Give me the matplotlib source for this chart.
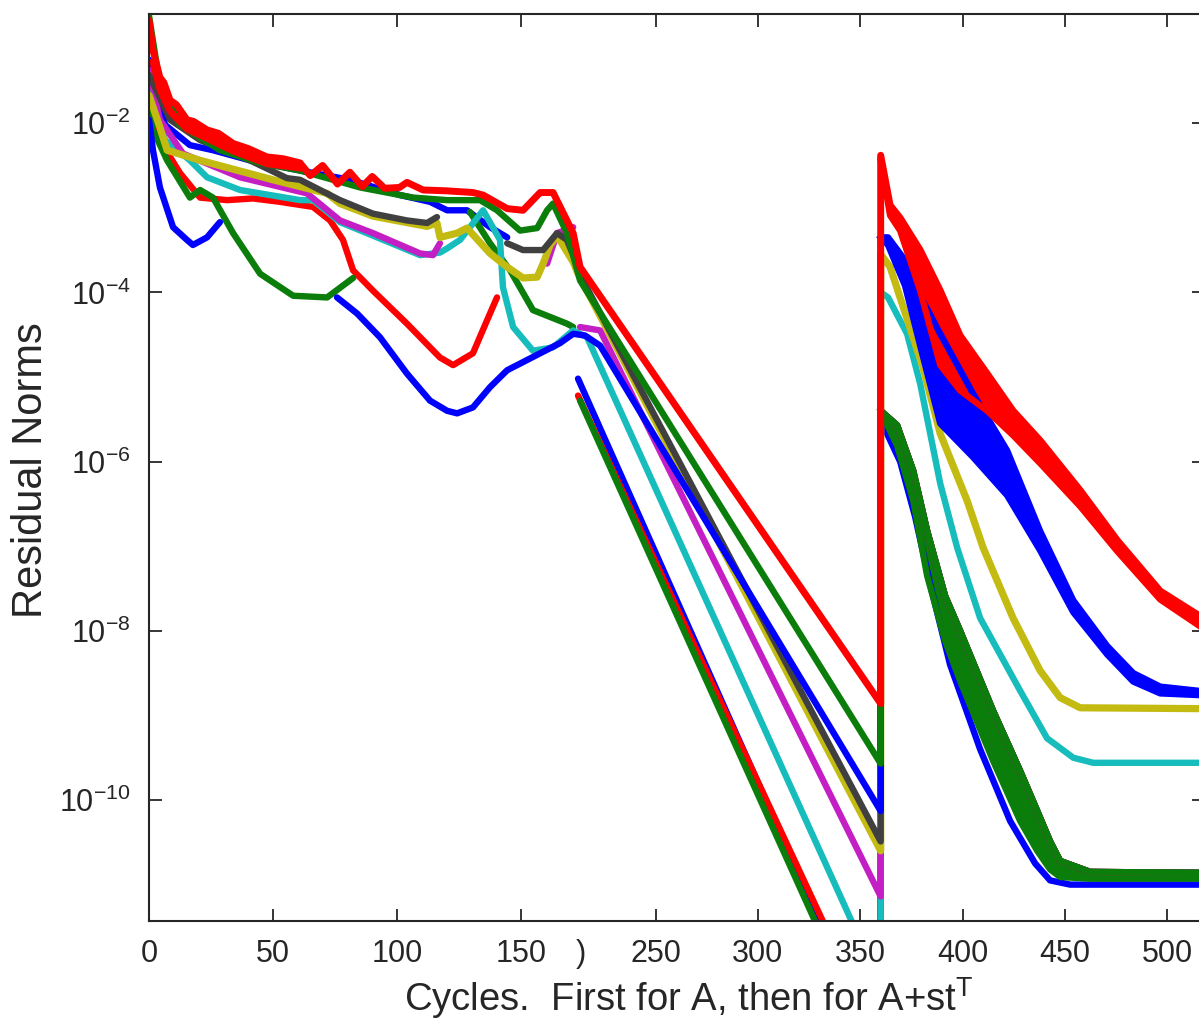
import matplotlib
matplotlib.use('Agg')
import matplotlib.pyplot as plt
import numpy as np

plt.rcParams['font.family'] = 'Liberation Sans'
plt.rcParams['mathtext.fontset'] = 'custom'
plt.rcParams['mathtext.rm'] = 'Liberation Sans'
plt.rcParams['mathtext.it'] = 'Liberation Sans:italic'
plt.rcParams['mathtext.bf'] = 'Liberation Sans:bold'

NAN = np.nan

# ---- data: cycles and log10(residual norm) ----
# phase 1: first problem (cycles 0..171), phase 2: 212..360, phase 3: A+st^T (360..)
red_p1_x = [0, 1.6, 3, 4.4, 6, 8.5, 11, 15.3, 18, 23.4, 28, 33.9, 40, 47.6, 54, 60.9, 65, 70, 76, 81,
            86, 90, 95, 101, 104, 110.5, 120, 130.6, 134.7, 144.4, 150.8, 157.7, 162.9, 168.5, 171.0]
red_p1_log = [-0.78, -1.14, -1.30, -1.46, -1.52, -1.73, -1.78, -1.96, -1.98, -2.08, -2.12, -2.24, -2.30,
              -2.40, -2.42, -2.47, -2.62, -2.50, -2.72, -2.58, -2.75, -2.63, -2.77, -2.76, -2.70, -2.79,
              -2.80, -2.82, -2.85, -3.01, -3.03, -2.82, -2.82, -3.15, -3.30]
# noisy (thick) start of the top red curve
red_noise_x = [1.6, 4.4, 8.5, 15.3, 23.4, 33.9, 47.6, 60.9]
red_noise_hi = [-1.14, -1.46, -1.73, -1.96, -2.08, -2.24, -2.40, -2.47]
red_noise_lo = [-1.28, -1.60, -1.86, -2.07, -2.18, -2.33, -2.48, -2.53]
red_p2_x = [213.1, 360]
red_p2_log = [-3.70, -8.86]
red_p3_x = [360, 364.6, 369.5, 379.3, 389.1, 398.8, 412.0, 424.7, 437.9, 457.5, 475.6, 496.6, 515.6]
red_p3_hi = [-2.38, -2.97, -3.12, -3.50, -3.98, -4.51, -4.96, -5.40, -5.75, -6.34, -6.93, -7.53, -7.82]
red_p3_lo = [-2.44, -3.09, -3.27, -3.98, -4.86, -5.16, -5.40, -5.69, -6.02, -6.53, -7.06, -7.63, -7.94]

green_p1_x = [0, 4.4, 12.5, 28.6, 44.8, 60.9, 85.1, 106.5, 120.2, 133.5, 140.3, 149.6, 156.5, 160.5,
              162.9, 168.5, 171.0]
green_p1_log = [-0.73, -1.55, -2.02, -2.32, -2.47, -2.56, -2.76, -2.88, -2.91, -2.91, -3.03, -3.27,
                -3.24, -3.03, -2.95, -3.30, -3.56]
green_p2_x = [213.1, 360]
green_p2_log = [-3.86, -9.57]
green_p3_x = [360, 368.0, 375.9, 382.7, 391.5, 398.8, 415.0, 428.2, 436.5, 442.8, 447.7, 462.4, 515.6]
green_p3_hi = [-5.40, -5.57, -6.11, -6.82, -7.59, -8.00, -8.95, -9.66, -10.13, -10.49, -10.72, -10.85, -10.86]
green_p3_lo = [-5.40, -5.81, -6.46, -7.35, -8.12, -8.59, -9.54, -10.25, -10.60, -10.82, -10.91, -10.93, -10.93]

blue_p1_x = [0, 1.6, 4.4, 9.7, 15.3, 17.7, 23.4, 28.6, NAN, 75.8, 83.9, 93.1, 104.0, 113.3, 120.2,
             124.2, 130.6, 137.5, 144.4, 152.4, 157.7, 165.7, 171.0]
blue_p1_log = [-1.96, -2.32, -2.76, -3.23, -3.38, -3.44, -3.35, -3.17, NAN, -4.06, -4.25, -4.53, -4.96,
               -5.28, -5.40, -5.43, -5.36, -5.12, -4.92, -4.80, -4.72, -4.60, -4.49]
blue_p2_x = [215.5, 222.9, 360]
blue_p2_log = [-4.51, -4.63, -10.13]
blue_p3_x = [360, 363.6, 371.9, 379.3, 389.1, 405.2, 421.8, 437.9, 454.1, 470.7, 483.4, 496.6, 515.6]
blue_p3_hi = [-3.35, -3.35, -3.62, -4.04, -4.49, -5.20, -5.87, -6.82, -7.64, -8.18, -8.50, -8.66, -8.71]
blue_p3_lo = [-3.35, -3.44, -3.92, -4.63, -5.55, -5.95, -6.40, -7.05, -7.78, -8.28, -8.60, -8.74, -8.76]

cyan_p1_x = [0, 6.5, 16.5, 23.4, 36.7, 60.9, 66.1, 77.0, 90.3, 109.3, 117.3, 120.2, 125.4, 134.7,
             141.5, 142.7, 146.8, 154.8, 162.9, 171.0]
cyan_p1_log = [-1.61, -2.20, -2.44, -2.64, -2.79, -2.91, -2.91, -3.17, -3.33, -3.56, -3.53, -3.48,
               -3.38, -3.03, -3.38, -3.94, -4.41, -4.69, -4.65, -4.45]
cyan_p2_x = [216.5, 360]
cyan_p2_log = [-4.53, -12.19]
cyan_p3_x = [360, 363.6, 372.9, 379.3, 384.2, 389.1, 397.4, 408.6, 428.2, 441.3, 454.1, 463.8, 515.6]
cyan_p3_log = [-4.00, -4.06, -4.49, -5.08, -5.67, -6.26, -7.02, -7.85, -8.71, -9.27, -9.50, -9.56, -9.56]

magenta_p1_x = [0, 4.4, 13.7, 36.7, 63.7, 77.0, 90.3, 109.3, 114.5, 117.3, NAN, 160.5, 164.5, 171.0]
magenta_p1_log = [-1.37, -1.96, -2.36, -2.64, -2.83, -3.15, -3.30, -3.54, -3.56, -3.42, NAN, -3.66,
                  -3.30, -3.23]
magenta_p2_x = [213.1, 222.9, 360]
magenta_p2_log = [-4.41, -4.45, -11.14]

yellow_p1_x = [0, 4.4, 7.3, 20.6, 50.0, 71.8, 77.0, 90.3, 112.1, 116.1, 117.3, 124.2, 128.2, 137.5,
               144.4, 150.8, 156.5, 158.9, 161.7, 164.5, 171.0]
yellow_p1_log = [-1.67, -2.05, -2.32, -2.44, -2.67, -2.83, -2.95, -3.10, -3.22, -3.18, -3.35, -3.30,
                 -3.24, -3.54, -3.70, -3.83, -3.82, -3.66, -3.44, -3.33, -3.64]
yellow_p2_x = [212.1, 360]
yellow_p2_log = [-3.78, -10.60]
yellow_p3_x = [360, 364.6, 380.7, 389.1, 402.2, 410.1, 424.7, 437.9, 447.7, 457.5, 515.6]
yellow_p3_log = [-3.55, -3.70, -4.89, -5.67, -6.46, -7.02, -7.85, -8.47, -8.79, -8.91, -8.92]

gray_p1_x = [0, 8.5, 20.6, 40.7, 55.6, 60.9, 77.0, 90.3, 104.0, 112.1, 116.1, NAN, 144.4, 150.8,
             158.9, 164.5, 168.5, 171.0]
gray_p1_log = [-1.43, -1.96, -2.20, -2.44, -2.65, -2.67, -2.91, -3.07, -3.15, -3.18, -3.11, NAN,
               -3.42, -3.50, -3.50, -3.30, -3.38, -3.56]
gray_p2_x = [212.1, 360]
gray_p2_log = [-3.75, -10.49]

# lower curves of the first problem that restart steeply after the break
blue2_p1_x = [0, 6.5, 16.5, 25.8, 40.7, 60.9, 81.0, 101.2, 113.3, 120.2, 128.2, 137.5, 144.4]
blue2_p1_log = [-1.25, -2.02, -2.26, -2.32, -2.44, -2.56, -2.67, -2.85, -2.93, -3.03, -3.03, -3.23, -3.35]
blue2_p2_x = [212.1, 360]
blue2_p2_log = [-5.02, -13.05]
blue2_p3_x = [360, 369.5, 376.8, 384.2, 393.9, 408.6, 423.3, 435.5, 442.8, 452.6, 515.6]
blue2_p3_log = [-5.51, -6.00, -6.65, -7.45, -8.40, -9.40, -10.25, -10.75, -10.95, -11.00, -11.00]

red2_p1_x = [0, 4.4, 8.5, 12.5, 20.6, 31.5, 41.9, 52.8, 66.1, 73.0, 78.2, 82.3, 90.3, 104.0, 117.3,
             122.6, 130.6, 136.3, 140.3]
red2_p1_log = [-1.37, -2.20, -2.40, -2.59, -2.88, -2.91, -2.89, -2.93, -2.99, -3.15, -3.38, -3.74,
               -3.98, -4.37, -4.77, -4.86, -4.72, -4.33, -4.06]
red2_p2_x = [212.1, 360]
red2_p2_log = [-5.22, -12.90]

green2_p1_x = [0, 1.6, 7.3, 16.5, 20.6, 25.8, 33.9, 44.8, 58.1, 71.8, 82.3, NAN,
               129.4, 137.5, 145.6, 154.8, 168.5, 171.0]
green2_p1_log = [-1.69, -2.08, -2.44, -2.88, -2.79, -2.88, -3.30, -3.78, -4.04, -4.06, -3.83, NAN,
                 -3.05, -3.42, -3.74, -4.21, -4.37, -4.41]
green2_p2_x = [213.1, 360]
green2_p2_log = [-5.28, -13.15]

x_ticks = [0, 50, 100, 150, 250, 300, 350, 400, 450, 500]
y_ticks = [1e-10, 1e-8, 1e-6, 1e-4, 1e-2]
y_tick_labels = [r'$10^{-10}$', r'$10^{-8}$', r'$10^{-6}$', r'$10^{-4}$', r'$10^{-2}$']

C_BLUE = '#0000ff'
C_GREEN = '#0a7d0a'
C_RED = '#ff0000'
C_CYAN = '#17bcbc'
C_MAGENTA = '#c41fc4'
C_YELLOW = '#c4bb12'
C_GRAY = '#404040'
C_TEXT = '#262626'

# the picture was spliced: cycles 0..172 are drawn wider than cycles 211..
X_LEFT, X_RIGHT = 172.0, 211.0
U_LEFT = 149 + 2.48 * X_LEFT
U_RIGHT = 144 + 2.046 * X_RIGHT


def fwd(x):
    x = np.asarray(x, dtype=float)
    mid = U_LEFT + (x - X_LEFT) * (U_RIGHT - U_LEFT) / (X_RIGHT - X_LEFT)
    return np.where(x <= X_LEFT, 149 + 2.48 * x, np.where(x >= X_RIGHT, 144 + 2.046 * x, mid))


def inv(u):
    u = np.asarray(u, dtype=float)
    mid = X_LEFT + (u - U_LEFT) * (X_RIGHT - X_LEFT) / (U_RIGHT - U_LEFT)
    return np.where(u <= U_LEFT, (u - 149) / 2.48, np.where(u >= U_RIGHT, (u - 144) / 2.046, mid))


def series(ax, xs, logs, color, lw=4.6):
    x = np.concatenate([np.asarray(a, float) for a in xs])
    y = 10.0 ** np.concatenate([np.asarray(a, float) for a in logs])
    ax.plot(x, y, color=color, lw=lw, solid_joinstyle='round', solid_capstyle='round')


def band(ax, x, hi, lo, color, lw=4.6):
    x = np.asarray(x, float)
    ax.fill_between(x, 10.0 ** np.asarray(lo), 10.0 ** np.asarray(hi), color=color, lw=0)
    ax.plot(x, 10.0 ** np.asarray(lo), color=color, lw=lw, solid_joinstyle='round')


GAP_X, GAP_Y = [NAN], [NAN]

fig = plt.figure(figsize=(11.99, 10.33), dpi=100)
ax = fig.add_axes([149 / 1199, 112 / 1033, 1055 / 1199, 907 / 1033])
ax.set_xscale('function', functions=(fwd, inv))
ax.set_yscale('log')

# drawing order chosen so that the overlaps match the picture
series(ax, [blue2_p1_x, GAP_X, blue2_p2_x, blue2_p3_x], [blue2_p1_log, GAP_Y, blue2_p2_log, blue2_p3_log], C_BLUE)
series(ax, [red2_p1_x, GAP_X, red2_p2_x, green_p3_x], [red2_p1_log, GAP_Y, red2_p2_log, green_p3_hi], C_RED)
series(ax, [green2_p1_x, GAP_X, green2_p2_x, green_p3_x], [green2_p1_log, GAP_Y, green2_p2_log, green_p3_hi], C_GREEN)
series(ax, [cyan_p1_x, cyan_p2_x, cyan_p3_x], [cyan_p1_log, cyan_p2_log, cyan_p3_log], C_CYAN)
series(ax, [magenta_p1_x, GAP_X, magenta_p2_x, green_p3_x], [magenta_p1_log, GAP_Y, magenta_p2_log, green_p3_hi], C_MAGENTA)
series(ax, [yellow_p1_x, yellow_p2_x, yellow_p3_x], [yellow_p1_log, yellow_p2_log, yellow_p3_log], C_YELLOW, lw=5.2)
series(ax, [gray_p1_x, gray_p2_x, green_p3_x], [gray_p1_log, gray_p2_log, green_p3_hi], C_GRAY)
series(ax, [blue_p1_x, blue_p2_x, blue_p3_x], [blue_p1_log, blue_p2_log, blue_p3_hi], C_BLUE)
band(ax, blue_p3_x, blue_p3_hi, blue_p3_lo, C_BLUE)
series(ax, [green_p1_x, green_p2_x, green_p3_x], [green_p1_log, green_p2_log, green_p3_hi], C_GREEN)
band(ax, green_p3_x, green_p3_hi, green_p3_lo, C_GREEN)
series(ax, [red_p1_x, red_p2_x, red_p3_x], [red_p1_log, red_p2_log, red_p3_hi], C_RED, lw=5.0)
band(ax, red_noise_x, red_noise_hi, red_noise_lo, C_RED, lw=5.0)
band(ax, red_p3_x, red_p3_hi, red_p3_lo, C_RED)

ax.set_xlim(0, 518)
ax.set_ylim(10 ** -11.43, 10 ** -0.71)

ax.set_xticks(x_ticks, labels=[str(t) for t in x_ticks])
ax.set_xticks([213.5], labels=[')'], minor=True)
ax.set_yticks(y_ticks, labels=y_tick_labels)
ax.yaxis.set_minor_locator(matplotlib.ticker.NullLocator())

ax.tick_params(which='major', direction='in', length=9, width=1.3, top=True, right=True,
               labelsize=22, colors=C_TEXT, pad=13)
ax.tick_params(axis='x', which='minor', length=0, labelsize=22, labelcolor=C_TEXT, pad=13)
for s in ax.spines.values():
    s.set_linewidth(1.5)
    s.set_color(C_TEXT)

ax.set_xlabel(r'Cycles.  First for A, then for A+st$^{\mathrm{T}}$', fontsize=27.5, color=C_TEXT)
ax.xaxis.set_label_coords(0.512, -0.060)
ax.set_ylabel('Residual Norms', fontsize=30, color=C_TEXT)
ax.yaxis.set_label_coords(-0.093, 0.497)

fig.savefig('out.png', dpi=100)
